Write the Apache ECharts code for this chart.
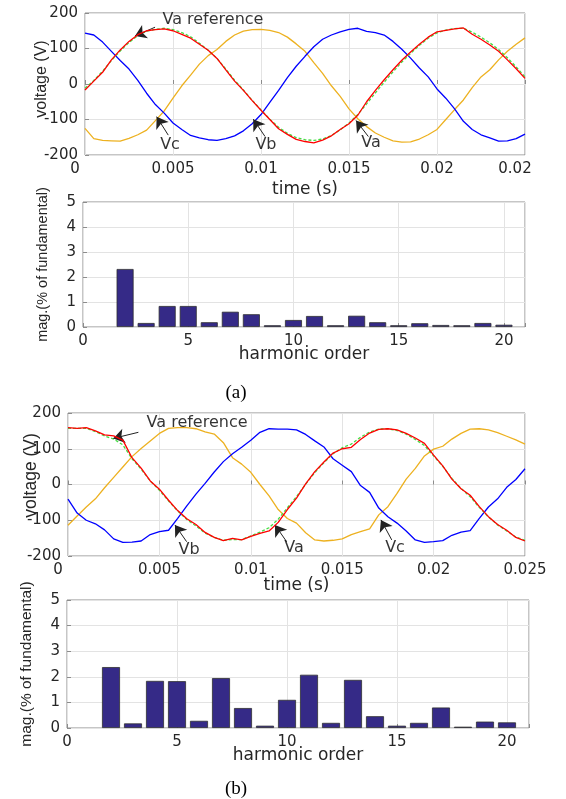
<!DOCTYPE html>
<html><head><meta charset="utf-8">
<script src="https://cdn.jsdelivr.net/npm/echarts@6/dist/echarts.min.js"></script>
<style>html,body{margin:0;padding:0;background:#fff}#c{width:566px;height:799px}</style>
</head><body><div id="c"></div>
<script>
// ---------- data ----------
const time = [0,0.0005,0.001,0.0015,0.002,0.0025,0.003,0.0035,0.004,0.0045,0.005,0.0055,0.006,0.0065,0.007,0.0075,0.008,0.0085,0.009,0.0095,0.01,0.0105,0.011,0.0115,0.012,0.0125,0.013,0.0135,0.014,0.0145,0.015,0.0155,0.016,0.0165,0.017,0.0175,0.018,0.0185,0.019,0.0195,0.02,0.0205,0.021,0.0215,0.022,0.0225,0.023,0.0235,0.024,0.0245,0.025];

// (a)
const vaA    = [-17,8,33,68,96,120,139,150,153,155,150,140,129,112,95,72,40,8,-18,-47,-74,-100,-126,-142,-156,-162,-166,-158,-146,-128,-112,-88,-50,-18,12,40,67,90,112,132,147,151,155,158,140,126,110,92,68,43,16];
const vaRefA = [-12,10,36,66,93,117,136,149,154,157,153,145,133,115,95,72,42,11,-17,-46,-73,-99,-122,-139,-151,-157,-159,-155,-145,-129,-110,-86,-56,-25,5,34,62,86,109,129,144,152,156,157,146,132,116,97,74,48,20];
const vbA    = [143,138,118,92,66,42,10,-26,-58,-82,-110,-128,-145,-152,-157,-159,-154,-146,-132,-112,-86,-52,-18,18,50,78,105,126,138,147,154,157,148,145,138,120,98,73,45,20,-14,-40,-70,-105,-128,-143,-152,-161,-160,-154,-141];
const vcA    = [-125,-154,-159,-160,-161,-153,-143,-130,-103,-76,-40,-5,25,56,80,97,120,138,149,153,154,151,145,132,113,92,60,30,-5,-35,-70,-98,-120,-138,-150,-160,-164,-163,-155,-143,-128,-100,-72,-45,-10,20,40,68,92,112,130];

// (b)
const vaB    = [159,157,159,150,139,136,124,75,46,10,-13,-44,-73,-96,-112,-134,-148,-157,-151,-155,-145,-137,-130,-106,-70,-38,2,36,63,88,100,104,126,144,154,156,153,143,130,115,82,52,15,-12,-30,-62,-90,-112,-128,-148,-158];
const vaRefB = [157,157,157,148,136,127,111,72,43,10,-16,-46,-74,-98,-116,-136,-148,-156,-154,-154,-144,-133,-121,-97,-65,-34,1,33,61,86,103,113,132,147,155,156,151,141,126,109,80,51,17,-11,-34,-64,-91,-113,-130,-147,-156];
const vbB    = [-41,-80,-100,-110,-127,-152,-162,-161,-158,-140,-132,-128,-95,-60,-27,3,35,64,86,104,124,146,156,155,155,153,140,122,105,72,54,36,-3,-22,-66,-90,-108,-130,-155,-162,-160,-157,-142,-133,-129,-95,-63,-40,-8,14,44];
const vcB    = [-114,-88,-63,-40,-9,20,49,78,101,122,143,157,159,159,156,147,141,117,75,57,34,0,-32,-70,-95,-108,-135,-155,-158,-156,-152,-140,-132,-124,-85,-62,-25,15,45,80,99,107,127,143,155,156,153,145,135,125,113];

// harmonic spectra
const harmonicOrder = [2,3,4,5,6,7,8,9,10,11,12,13,14,15,16,17,18,19,20];
const magA = [2.32,0.16,0.84,0.84,0.19,0.61,0.51,0.07,0.28,0.44,0.07,0.45,0.19,0.07,0.15,0.08,0.07,0.16,0.09];
const magB = [2.38,0.18,1.84,1.83,0.28,1.95,0.78,0.09,1.10,2.08,0.20,1.88,0.46,0.09,0.20,0.80,0.05,0.25,0.22];

// tick labels
const timeTicksA = ['0','0.005','0.01','0.015','0.02','0.02'];
const timeTicksB = ['0','0.005','0.01','0.015','0.02','0.025'];
const harmTicks = ['0','5','10','15','20'];

// annotations (text, label position, arrow start, arrow tip) in data units
const annotA = [
  {text:'Va reference', at:[0.00727,180], from:[0.00398,160], to:[0.00284,135]},
  {text:'Vc', at:[0.00483,-172], from:[0.00473,-144], to:[0.00407,-92]},
  {text:'Vb', at:[0.01028,-172], from:[0.01023,-148], to:[0.00956,-99]},
  {text:'Va', at:[0.01625,-166], from:[0.0161,-148], to:[0.0154,-103]}
];
const annotB = [
  {text:'Va reference', at:[0.00706,172], from:[0.00385,146], to:[0.00248,129]},
  {text:'Vb', at:[0.00662,-183], from:[0.00649,-160], to:[0.00585,-113]},
  {text:'Va', at:[0.01236,-178], from:[0.01196,-160], to:[0.01132,-113]},
  {text:'Vc', at:[0.01789,-178], from:[0.01771,-155], to:[0.01712,-99]}
];

// ---------- styles ----------
const TXT = '#262626';
const BORDER = '#8c8c8c';
const SPLIT = '#e3e3e3';
const SANS = 'DejaVu Sans';
const COLORS = {va:'#ff0000', ref:'#44dd44', vb:'#0000ff', vc:'#edb120', bar:'#352a87'};

function grid(l,t,w,h){return {left:l,top:t,width:w,height:h,show:true,borderColor:BORDER,borderWidth:1,backgroundColor:'transparent'};}

function axisBase(gi){
  return {type:'value', gridIndex:gi, nameMoveOverlap:false,
    axisLine:{show:false},
    axisTick:{show:true, inside:true, length:4, lineStyle:{color:BORDER}},
    splitLine:{show:true, lineStyle:{color:SPLIT,width:1}},
    axisLabel:{color:TXT, fontFamily:SANS, fontSize:15, margin:7}};
}
function timeAxis(gi, labels, gap, shiftLast){
  const a = axisBase(gi);
  a.min = 0; a.max = 0.025; a.interval = 0.005;
  a.axisLabel.formatter = v => {
    const i = Math.round(v/0.005);
    if (Math.abs(v-i*0.005)>1e-9) return '';
    if (i===0 || (shiftLast && i===labels.length-1)) return '{z|' + labels[i] + '}';
    return labels[i];
  };
  a.axisLabel.rich = {z:{padding:[0,20,0,0], fontFamily:SANS, fontSize:15, color:TXT}};
  a.name = 'time (s)'; a.nameLocation = 'middle'; a.nameGap = gap;
  a.nameTextStyle = {color:TXT, fontFamily:SANS, fontSize:17};
  return a;
}
function harmAxis(gi, gap){
  const a = axisBase(gi);
  a.min = 0; a.max = 21; a.interval = 5;
  a.axisLabel.formatter = v => (v % 5 === 0 ? harmTicks[v/5] : '');
  a.name = 'harmonic order'; a.nameLocation = 'middle'; a.nameGap = gap;
  a.nameTextStyle = {color:TXT, fontFamily:SANS, fontSize:17};
  return a;
}
function voltAxis(gi, gap, fs, pad){
  const a = axisBase(gi);
  a.min = -200; a.max = 200; a.interval = 100;
  a.name = 'voltage (V)'; a.nameLocation = 'middle'; a.nameGap = gap;
  a.nameTextStyle = {color:TXT, fontFamily:'Liberation Sans', fontSize:fs, padding:pad};
  return a;
}
function magAxis(gi, gap, fs){
  const a = axisBase(gi);
  a.min = 0; a.max = 5; a.interval = 1;
  a.name = 'mag.(% of fundamental)'; a.nameLocation = 'middle'; a.nameGap = gap;
  a.nameTextStyle = {color:TXT, fontFamily:'Liberation Sans', fontSize:fs};
  return a;
}

function line(ai, vals, color, dashed, z){
  return {type:'line', xAxisIndex:ai, yAxisIndex:ai, data:time.map((t,i)=>[t,vals[i]]),
    showSymbol:false, symbol:'none', z:z,
    lineStyle:{color:color, width:1.3, type:dashed?[3,2]:'solid'}, silent:true};
}
function bars(ai, vals, w){
  return {type:'bar', xAxisIndex:ai, yAxisIndex:ai, data:harmonicOrder.map((h,i)=>[h,vals[i]]),
    barWidth:w, itemStyle:{color:COLORS.bar, borderColor:'#303030', borderWidth:0.8}, silent:true};
}
function annot(ai, list){
  return {type:'scatter', xAxisIndex:ai, yAxisIndex:ai, z:20,
    data:list.map(a=>({name:a.text, value:a.at})),
    symbolSize:1, itemStyle:{color:'rgba(0,0,0,0)'},
    label:{show:true, position:'inside', formatter:'{b}', color:'#000', fontFamily:SANS, fontSize:16},
    markLine:{silent:true, symbol:['none','arrow'], symbolSize:11, animation:false,
      label:{show:false}, itemStyle:{color:'#000'}, lineStyle:{color:'#222', width:1, type:'solid'},
      data:list.map(a=>[{coord:a.from},{coord:a.to}])}};
}

const chart = echarts.init(document.getElementById('c'), null, {renderer:'canvas'});
chart.setOption({
  animation:false,
  backgroundColor:'#fff',
  grid:[grid(85,13,440,142), grid(83,202,442,125), grid(68,413,457,143), grid(67,600,462,128)],
  xAxis:[timeAxis(0,timeTicksA,26,true), harmAxis(1,19), timeAxis(2,timeTicksB,21,false), harmAxis(3,19)],
  yAxis:[voltAxis(0,35,16,[0,0,0,10]), magAxis(1,33,14.5), voltAxis(2,28,17.5,[0,0,0,18]), magAxis(3,32,15.5)],
  series:[
    line(0,vcA,COLORS.vc,false,2), line(0,vbA,COLORS.vb,false,3), line(0,vaRefA,COLORS.ref,true,4), line(0,vaA,COLORS.va,false,5),
    bars(1,magA,17),
    line(2,vcB,COLORS.vc,false,2), line(2,vbB,COLORS.vb,false,3), line(2,vaRefB,COLORS.ref,true,4), line(2,vaB,COLORS.va,false,5),
    bars(3,magB,18),
    annot(0,annotA), annot(2,annotB)
  ],
  graphic:[
    {type:'text', x:236, y:393, style:{text:'(a)', fontFamily:'Liberation Serif', fontSize:19, fill:'#000', align:'center', verticalAlign:'middle'}},
    {type:'text', x:236, y:789, style:{text:'(b)', fontFamily:'Liberation Serif', fontSize:19, fill:'#000', align:'center', verticalAlign:'middle'}}
  ]
});
</script>
</body></html>
